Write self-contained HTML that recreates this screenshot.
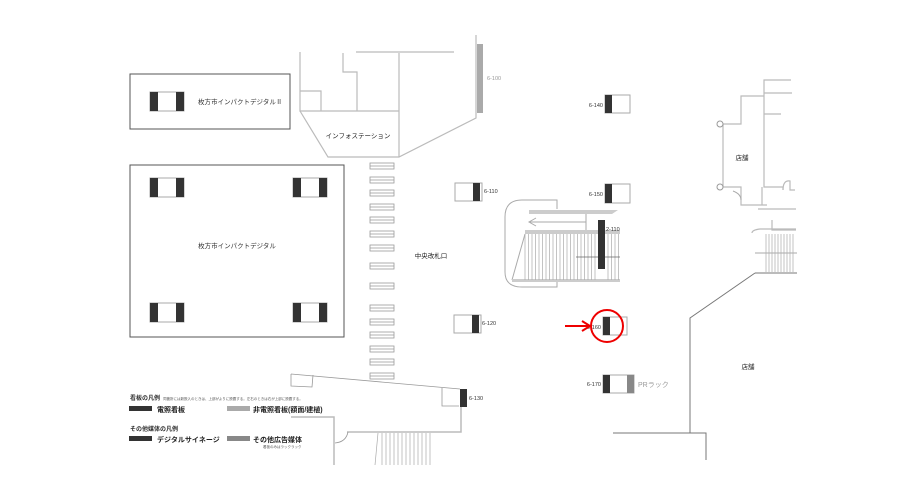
<!DOCTYPE html>
<html><head><meta charset="utf-8"><style>
html,body{margin:0;padding:0;background:#fff;}
svg{display:block;font-family:"Liberation Sans","Noto Sans CJK JP",sans-serif;}
</style></head><body>
<svg width="919" height="491" viewBox="0 0 919 491" xmlns="http://www.w3.org/2000/svg">
<defs>
<g id="sg"><rect x="0" y="0" width="34" height="19" fill="#fff" stroke="#aaa" stroke-width="1"/><rect x="0" y="0" width="8" height="19" fill="#333"/><rect x="26" y="0" width="8" height="19" fill="#333"/></g>
<g id="st"><rect x="0" y="-3" width="24" height="6" fill="#fff" stroke="#999" stroke-width="0.8"/><line x1="0" y1="0" x2="24" y2="0" stroke="#999" stroke-width="0.8"/></g>
</defs>
<rect x="130" y="74" width="160" height="55" fill="none" stroke="#555" stroke-width="1"/>
<use href="#sg" x="150" y="92"/>
<text x="198" y="104" font-size="6.5" fill="#333">枚方市インパクトデジタルⅡ</text>
<rect x="130" y="165" width="214" height="172" fill="none" stroke="#555" stroke-width="1"/>
<use href="#sg" x="150" y="178"/><use href="#sg" x="293" y="178"/>
<use href="#sg" x="150" y="303"/><use href="#sg" x="293" y="303"/>
<text x="237" y="248" font-size="6.5" fill="#333" text-anchor="middle">枚方市インパクトデジタル</text>
<g fill="none" stroke="#bbb" stroke-width="1.2">
<path d="M300 52V111H399M300 91H321V111M356 52H454M399 53V157M343 53V72H357V111"/>
<path d="M300 111L328 157H399L476 118V35"/>
</g>
<rect x="477" y="44" width="6" height="69" fill="#aaa"/>
<text x="487" y="80" font-size="5.5" fill="#999">6-100</text>
<text x="358" y="138" font-size="6.5" fill="#222" text-anchor="middle">インフォステーション</text>
<g>
<use href="#st" x="370" y="166"/><use href="#st" x="370" y="180"/><use href="#st" x="370" y="193"/><use href="#st" x="370" y="207"/><use href="#st" x="370" y="220"/><use href="#st" x="370" y="234"/><use href="#st" x="370" y="248"/><use href="#st" x="370" y="266"/><use href="#st" x="370" y="286"/><use href="#st" x="370" y="308"/><use href="#st" x="370" y="322"/><use href="#st" x="370" y="335"/><use href="#st" x="370" y="349"/><use href="#st" x="370" y="362"/><use href="#st" x="370" y="376"/>
</g>
<text x="431" y="258" font-size="6.5" fill="#222" text-anchor="middle">中央改札口</text>
<rect x="455" y="183" width="27" height="18" fill="#fff" stroke="#aaa"/><rect x="473" y="183" width="7" height="18" fill="#333"/>
<text x="484" y="193" font-size="5.5" fill="#333">6-110</text>
<rect x="454" y="315" width="27" height="18" fill="#fff" stroke="#aaa"/><rect x="472" y="315" width="7" height="18" fill="#333"/>
<text x="482" y="325" font-size="5.5" fill="#333">6-120</text>
<rect x="605" y="95" width="25" height="18" fill="#fff" stroke="#aaa"/><rect x="605" y="95" width="7" height="18" fill="#333"/>
<text x="603" y="107" font-size="5.5" fill="#333" text-anchor="end">6-140</text>
<rect x="605" y="184" width="25" height="19" fill="#fff" stroke="#aaa"/><rect x="605" y="184" width="7" height="19" fill="#333"/>
<text x="603" y="196" font-size="5.5" fill="#333" text-anchor="end">6-150</text>
<rect x="603" y="317" width="24" height="18" fill="#fff" stroke="#aaa"/><rect x="603" y="317" width="7" height="18" fill="#333"/>
<text x="601" y="329" font-size="5.5" fill="#333" text-anchor="end">6-160</text>
<circle cx="607" cy="326" r="16" fill="none" stroke="#e00" stroke-width="2"/>
<line x1="565" y1="326" x2="588" y2="326" stroke="#e00" stroke-width="2"/>
<path d="M582 321L590 326L582 331" fill="none" stroke="#e00" stroke-width="2"/>
<rect x="603" y="375" width="31" height="18" fill="#fff" stroke="#aaa"/><rect x="603" y="375" width="7" height="18" fill="#333"/><rect x="627" y="375" width="7" height="18" fill="#888"/>
<text x="601" y="386" font-size="5.5" fill="#333" text-anchor="end">6-170</text>
<text x="638" y="387" font-size="7" fill="#999">PRラック</text>
<g fill="none" stroke="#aaa" stroke-width="1">
<path d="M557 209V200H522Q505 200 505 217V272Q505 287 522 287H557V280"/>
<path d="M525 234L512 280"/>
<line x1="586" y1="213" x2="586" y2="230"/>
<line x1="530" y1="222" x2="586" y2="222"/>
<path d="M536 218L529 222L536 226"/>
</g>
<polygon points="529,210 618,210 612,214 529,214" fill="#ccc"/>
<rect x="525" y="230" width="95" height="4" fill="#ccc"/>
<rect x="512" y="279" width="108" height="3" fill="#ccc"/>
<g stroke="#aaa" stroke-width="0.7">
<path d="M525 234V280M528.5 234V280M532 234V280M535.5 234V280M539 234V280M542.5 234V280M546 234V280M549.5 234V280M553 234V280M556.5 234V280M560 234V280M563.5 234V280M567 234V280M570.5 234V280M574 234V280M577.5 234V280M581 234V280M584.5 234V280M588 234V280M591.5 234V280M595 234V280M608 234V280M611.5 234V280M615 234V280M618.5 234V280"/>
</g>
<line x1="576" y1="257" x2="620" y2="257" stroke="#666" stroke-width="0.8"/>
<rect x="598" y="220" width="7" height="49" fill="#333"/>
<text x="606" y="231" font-size="5.5" fill="#333">2-110</text>
<g fill="none" stroke="#bbb" stroke-width="1.2">
<path d="M723 124H741V96H764V80H791M764 93H792M764 96V114H781M764 114V187H783V190M723 124V187H741V205H762V187M741 187H723M762 205H767"/>
<path d="M783 190Q783 180 790 181V190H795"/>
<path d="M758 209H796M772 220V230H796M752 233Q752 230 760 229H796"/>
</g>
<circle cx="720" cy="124" r="3" fill="#fff" stroke="#999"/>
<circle cx="720" cy="187" r="3" fill="#fff" stroke="#999"/>
<path d="M733 191Q741 194 741 200" fill="none" stroke="#aaa"/>
<g stroke="#aaa" stroke-width="0.7"><path d="M766 234V273M769 234V273M772 234V273M775 234V273M778 234V273M781 234V273M784 234V273M787 234V273M790 234V273M793 234V273"/></g>
<line x1="755" y1="253" x2="797" y2="253" stroke="#aaa"/>
<rect x="755" y="272" width="42" height="2" fill="#bbb"/>
<text x="742" y="160" font-size="6.5" fill="#222" text-anchor="middle">店舗</text>
<path d="M755 273L690 318V433H706V460M613 433H690" fill="none" stroke="#777" stroke-width="1"/>
<text x="748" y="369" font-size="6.5" fill="#222" text-anchor="middle">店舗</text>
<g fill="none" stroke="#999" stroke-width="0.8">
<path d="M291 374L460 389M291 374V386L312 387L313 375M442 388V406H459"/>
</g>
<rect x="460" y="389" width="7" height="18" fill="#333"/>
<text x="469" y="400" font-size="5.5" fill="#333">6-130</text>
<g fill="none" stroke="#bbb" stroke-width="1.5">
<path d="M291 417H334V465M347 432H461V407"/>
</g>
<path d="M335 443Q346 442 348 432" fill="none" stroke="#999" stroke-width="0.8"/>
<g stroke="#aaa" stroke-width="0.7"><path d="M378 433L375 465M382 433V465M386 433V465M390 433V465M394 433V465M398 433V465M402 433V465M406 433V465M410 433V465M414 433V465M418 433V465M422 433V465M426 433V465M430 433V465"/></g>
<text x="130" y="400" font-size="6" fill="#333" font-weight="bold">看板の凡例</text>
<text x="163" y="400" font-size="3.5" fill="#555">同箇所には新設入のときは、上部がよりに設置する。左右のときは右が上部に設置する。</text>
<rect x="129" y="406" width="23" height="5" fill="#333"/>
<text x="157" y="412" font-size="7" fill="#222" font-weight="bold">電照看板</text>
<rect x="227" y="406" width="23" height="5" fill="#aaa"/>
<text x="253" y="412" font-size="7" fill="#222" font-weight="bold">非電照看板(額面/建植)</text>
<text x="130" y="431" font-size="6" fill="#333" font-weight="bold">その他媒体の凡例</text>
<rect x="129" y="436" width="23" height="5" fill="#333"/>
<text x="157" y="442" font-size="7" fill="#222" font-weight="bold">デジタルサイネージ</text>
<rect x="227" y="436" width="23" height="5" fill="#888"/>
<text x="253" y="442" font-size="7" fill="#222" font-weight="bold">その他広告媒体</text>
<text x="263" y="448" font-size="3.5" fill="#555">看板のみはラックラック</text>
</svg>
</body></html>
